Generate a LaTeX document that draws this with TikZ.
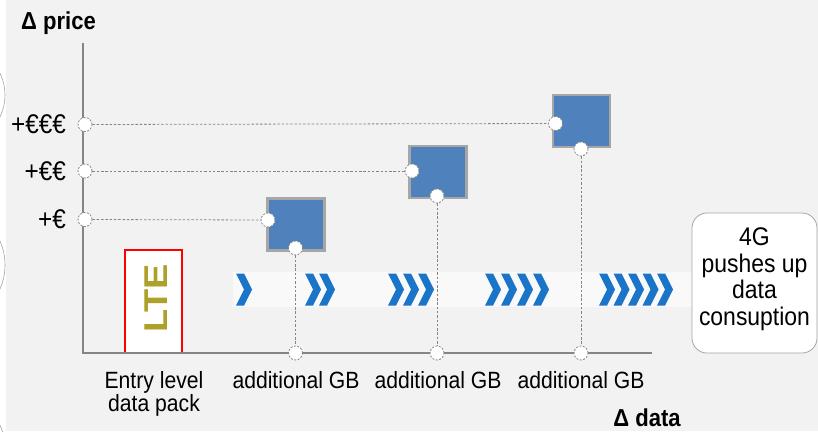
\documentclass[tikz,border=0pt]{standalone}
\usepackage{fontspec}
\setmainfont{Liberation Sans}[FakeStretch=0.9]
\newfontfamily\ltefont{Liberation Sans}[FakeStretch=1.15]
\definecolor{bggray}{HTML}{F2F2F2}
\definecolor{axisgray}{HTML}{858585}
\definecolor{boxblue}{HTML}{4F81BD}
\definecolor{boxedge}{HTML}{A6A6A6}
\definecolor{chevblue}{HTML}{1A75C9}
\definecolor{bandwhite}{HTML}{F9F9F9}
\definecolor{ltegold}{HTML}{ADA12A}
\tikzset{
  axis/.style={draw=axisgray, line width=2.6pt},
  guide/.style={draw=axisgray, line width=0.8pt, dash pattern=on 2.5pt off 1.8pt},
  dot/.style={circle, fill=white, draw=axisgray, line width=0.8pt,
              dash pattern=on 2pt off 1.5pt, minimum size=14pt, inner sep=0pt},
  tier/.style={rectangle, fill=boxblue, draw=boxedge, line width=2.2pt,
               minimum width=57pt, minimum height=52pt, inner sep=0pt},
  lbl/.style={font=\fontsize{23.5}{21}\selectfont, text=black, inner sep=0pt, align=center},
  notetxt/.style={font=\fontsize{25.5}{25.5}\selectfont, text=black, inner sep=0pt},
  ttl/.style={font=\fontsize{24.5}{24.5}\selectfont\bfseries, text=black, inner sep=0pt},
  price/.style={font=\fontsize{27}{27}\selectfont, text=black, inner sep=0pt, anchor=east},
  chev/.pic={\fill[chevblue] (0,-16) -- (8,-16) -- (16,0) -- (8,16) -- (0,16) -- (8,0) -- cycle;}
}
\begin{document}
\begin{tikzpicture}[x=1pt, y=-1pt]
  \useasboundingbox (0,0) rectangle (818,431);
  % page background with a pale strip on the left
  \fill[white] (0,0) rectangle (818,431);
  \fill[bggray] (6,0) rectangle (818,431);
  \begin{scope}
    \clip (0,0) rectangle (818,431);
    \draw[boxedge, line width=0.6pt] (-45,95) circle[radius=50];
    \draw[boxedge, line width=0.6pt] (-55,265) circle[radius=60];
    \draw[boxedge, line width=0.6pt] (-45,447) circle[radius=50];
  \end{scope}

  % band carrying the chevrons
  \fill[bandwhite] (233,272) rectangle (692,307);
  \foreach \x in {236} \pic at (\x,289.5) {chev};
  \foreach \i in {0,1} \pic at (305+14*\i,289.5) {chev};
  \foreach \i in {0,1,2} \pic at (388+15*\i,289.5) {chev};
  \foreach \i in {0,...,3} \pic at (485+16*\i,289.5) {chev};
  \foreach \i in {0,...,4} \pic at (599+14.5*\i,289.5) {chev};

  % LTE entry pack
  \node[rectangle, fill=white, draw=red, line width=1.2pt, minimum width=57pt,
        minimum height=103pt, inner sep=0pt] (lte) at (153.5,301.5) {};
  \node[rotate=90, text=ltegold, inner sep=0pt,
        font=\fontsize{33}{33}\ltefont\bfseries] (ltetxt) at (156,298.5) {LTE};

  % axes
  \coordinate (origin) at (83,353);
  \coordinate (ytop) at (83,43);
  \coordinate (xend) at (652,353);
  \draw[axis] (ytop) -- (origin) -- (xend);

  % price tiers
  \node[tier] (t1) at (296,224.5) {};
  \node[tier] (t2) at (438,172) {};
  \node[tier] (t3) at (581.5,121) {};

  \node[dot] (t1l) at (268,220) {};
  \node[dot] (t1b) at (295.5,248) {};
  \node[dot] (t2l) at (412,171) {};
  \node[dot] (t2b) at (437,196) {};
  \node[dot] (t3l) at (555.5,123.5) {};
  \node[dot] (t3b) at (581,149) {};

  \node[dot] (p1) at (85,219.5) {};
  \node[dot] (p2) at (85,171) {};
  \node[dot] (p3) at (85,124.5) {};

  \node[dot] (g1) at (295.5,353) {};
  \node[dot] (g2) at (437,353) {};
  \node[dot] (g3) at (581,353) {};

  \draw[guide] (p1) -- (t1l);
  \draw[guide] (p2) -- (t2l);
  \draw[guide] (p3) -- (t3l);
  \draw[guide] (t1b) -- (g1);
  \draw[guide] (t2b) -- (g2);
  \draw[guide] (t3b) -- (g3);

  % price labels
  \node[price] (l3) at (66,124.5) {+€€€};
  \node[price] (l2) at (66,171) {+€€};
  \node[price] (l1) at (66,219.5) {+€};

  % axis titles
  \node[ttl, anchor=base west] (ytitle) at (21,29) {Δ price};
  \node[ttl, anchor=base] (xtitle) at (647,426) {Δ data};

  % data labels
  \node[lbl, anchor=north] (entry) at (154,371.5) {Entry level\\data pack};
  \node[lbl, anchor=base] (a1) at (296,388) {additional GB};
  \node[lbl, anchor=base] (a2) at (438,388) {additional GB};
  \node[lbl, anchor=base] (a3) at (581,388) {additional GB};

  % 4G note
  \node[rectangle, rounded corners=15pt, fill=white, draw=boxedge, line width=0.8pt,
        minimum width=125pt, minimum height=140pt, inner sep=0pt] (note) at (754.5,283) {};
  \node[notetxt, anchor=base] (n1) at (754.5,245) {4G};
  \node[notetxt, anchor=base] (n2) at (754.5,272) {pushes up};
  \node[notetxt, anchor=base] (n3) at (754.5,298.5) {data};
  \node[notetxt, anchor=base] (n4) at (754.5,325) {consuption};
\end{tikzpicture}
\end{document}
